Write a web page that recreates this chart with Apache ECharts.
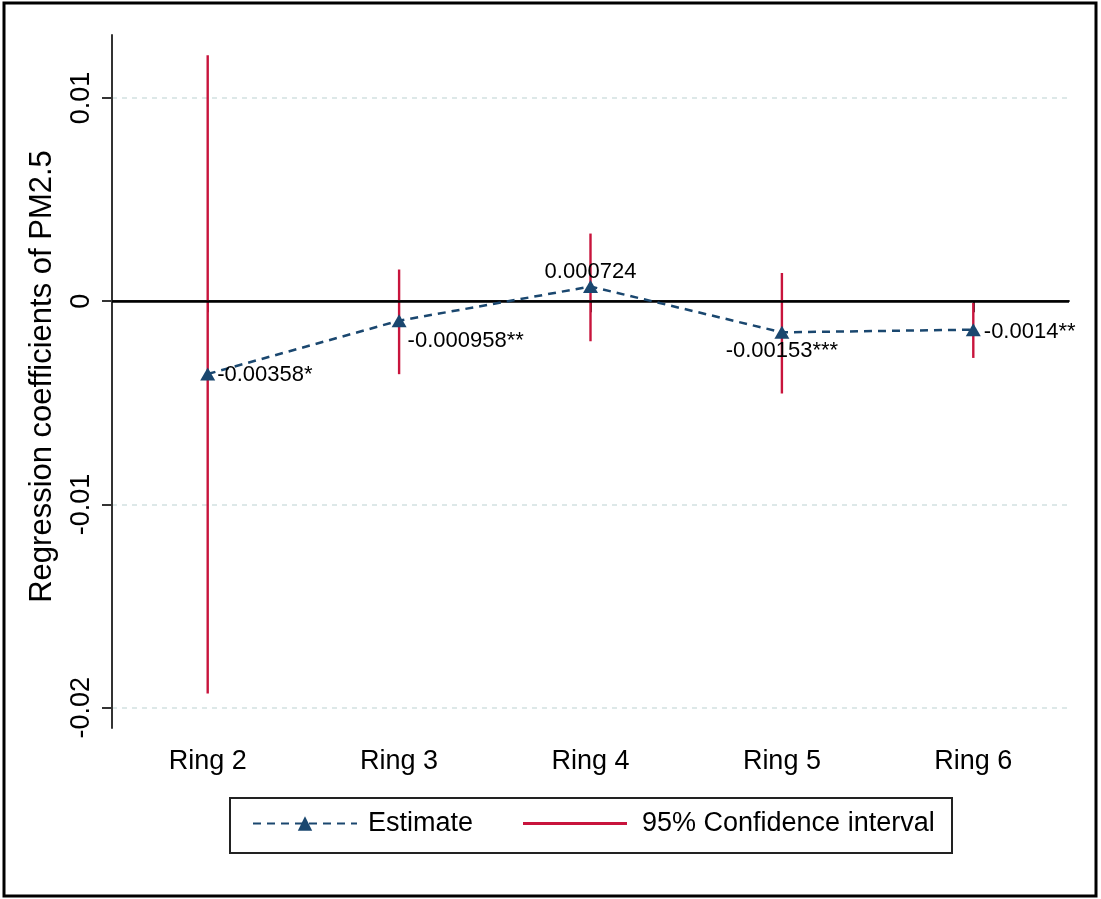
<!DOCTYPE html>
<html>
<head>
<meta charset="utf-8">
<script src="https://cdn.jsdelivr.net/npm/echarts@6/dist/echarts.min.js"></script>
<style>
  html, body { margin: 0; padding: 0; background: #ffffff; }
  #chart { width: 1101px; height: 899px; }
</style>
</head>
<body>
<div id="chart"></div>
<script>
// ---- data ----
const categories = ['Ring 2', 'Ring 3', 'Ring 4', 'Ring 5', 'Ring 6'];
const estimates = [-0.00358, -0.000958, 0.000724, -0.00153, -0.0014];
const ciLow = [-0.0193, -0.00359, -0.00197, -0.00454, -0.00279];
const ciHigh = [0.0121, 0.00156, 0.00333, 0.00139, -0.00008];
const pointLabels = ['-0.00358*', '-0.000958**', '0.000724', '-0.00153***', '-0.0014**'];
const yTickValues = [-0.02, -0.01, 0, 0.01];
const yAxisTitle = 'Regression coefficients of PM2.5';
const legendNames = ['Estimate', '95% Confidence interval'];

// ---- styles ----
const FONT = 'Liberation Sans, Arial, sans-serif';
const NAVY = '#1a476f';
const RED = '#c8143c';
const labelLayouts = [
  { position: 'right', distance: 2, offset: [0, 1] },
  { position: 'right', distance: 5, offset: [-4, 20] },
  { position: 'top', distance: 0, offset: [0, 3] },
  { position: 'bottom', distance: 1, offset: [0, 0] },
  { position: 'right', distance: 3, offset: [0, 2] }
];

const chart = echarts.init(document.getElementById('chart'), null, { renderer: 'canvas' });

const ciData = categories.map((c, i) => [i, ciLow[i], ciHigh[i]]);
const estData = estimates.map((v, i) => ({
  value: v,
  label: Object.assign({ formatter: pointLabels[i] }, labelLayouts[i])
}));

const option = {
  animation: false,
  backgroundColor: '#ffffff',
  textStyle: { fontFamily: FONT },
  grid: { left: 112, top: 35, right: 32, bottom: 171, containLabel: false },
  xAxis: {
    type: 'category',
    data: categories,
    boundaryGap: true,
    axisLine: { show: true, lineStyle: { color: '#333333', width: 2 } },
    axisTick: { show: true, alignWithLabel: true, length: 11, lineStyle: { color: '#333333', width: 2 } },
    axisLabel: { color: '#000000', fontSize: 27, fontFamily: FONT, margin: 20 },
    splitLine: { show: false }
  },
  yAxis: {
    type: 'value',
    min: -0.021,
    max: 0.0131,
    name: yAxisTitle,
    nameLocation: 'middle',
    nameRotate: 90,
    nameGap: 54,
    nameTextStyle: { color: '#000000', fontSize: 31, fontFamily: FONT, padding: [0, 0, 0, 10] },
    axisLine: { show: true, onZero: false, lineStyle: { color: '#333333', width: 2 } },
    axisTick: { show: true, length: 10, customValues: yTickValues, lineStyle: { color: '#333333', width: 2 } },
    axisLabel: {
      show: true, rotate: 90, margin: 17, color: '#000000', fontSize: 27, fontFamily: FONT,
      customValues: yTickValues,
      formatter: v => String(Math.round(v * 100) / 100)
    },
    splitLine: { show: true, lineStyle: { color: '#dde8e8', width: 2, type: [5, 5] } }
  },
  legend: [
    {
      data: [legendNames[0]],
      left: 252, top: 810, padding: 0,
      itemWidth: 104, itemHeight: 18,
      textStyle: { fontSize: 27, color: '#000000', fontFamily: FONT, padding: [0, 0, 8, 6] },
      selectedMode: false
    },
    {
      data: [{ name: legendNames[1], icon: 'rect' }],
      left: 523, top: 810, padding: 0,
      itemWidth: 104, itemHeight: 3,
      textStyle: { fontSize: 27, color: '#000000', fontFamily: FONT, padding: [0, 0, 8, 10] },
      selectedMode: false
    }
  ],
  graphic: [
    {
      type: 'rect', z: 100, silent: true,
      shape: { x: 230, y: 798, width: 722, height: 55 },
      style: { fill: 'none', stroke: '#222222', lineWidth: 2 }
    },
    {
      type: 'rect', z: 100, silent: true,
      shape: { x: 4, y: 3, width: 1092, height: 893 },
      style: { fill: 'none', stroke: '#000000', lineWidth: 3 }
    }
  ],
  series: [
    {
      name: legendNames[1],
      type: 'custom',
      z: 2,
      color: RED,
      itemStyle: { color: RED },
      encode: { x: 0, y: [1, 2] },
      data: ciData,
      renderItem: function (params, api) {
        const p1 = api.coord([api.value(0), api.value(1)]);
        const p2 = api.coord([api.value(0), api.value(2)]);
        return {
          type: 'line',
          shape: { x1: p1[0], y1: p1[1], x2: p2[0], y2: p2[1] },
          style: { stroke: RED, lineWidth: 2.4 }
        };
      }
    },
    {
      name: legendNames[0],
      type: 'line',
      z: 4,
      data: estData,
      color: NAVY,
      symbol: 'triangle',
      symbolSize: [15, 13],
      itemStyle: { color: NAVY },
      lineStyle: { color: NAVY, width: 2.5, type: [8, 6] },
      label: { show: true, color: '#000000', fontSize: 22, fontFamily: FONT },
      markLine: {
        silent: true,
        symbol: ['none', 'none'],
        z: 3,
        label: { show: false },
        lineStyle: { color: '#000000', width: 2.5, type: 'solid' },
        data: [{ yAxis: 0 }]
      }
    }
  ]
};

chart.setOption(option);
</script>
</body>
</html>
